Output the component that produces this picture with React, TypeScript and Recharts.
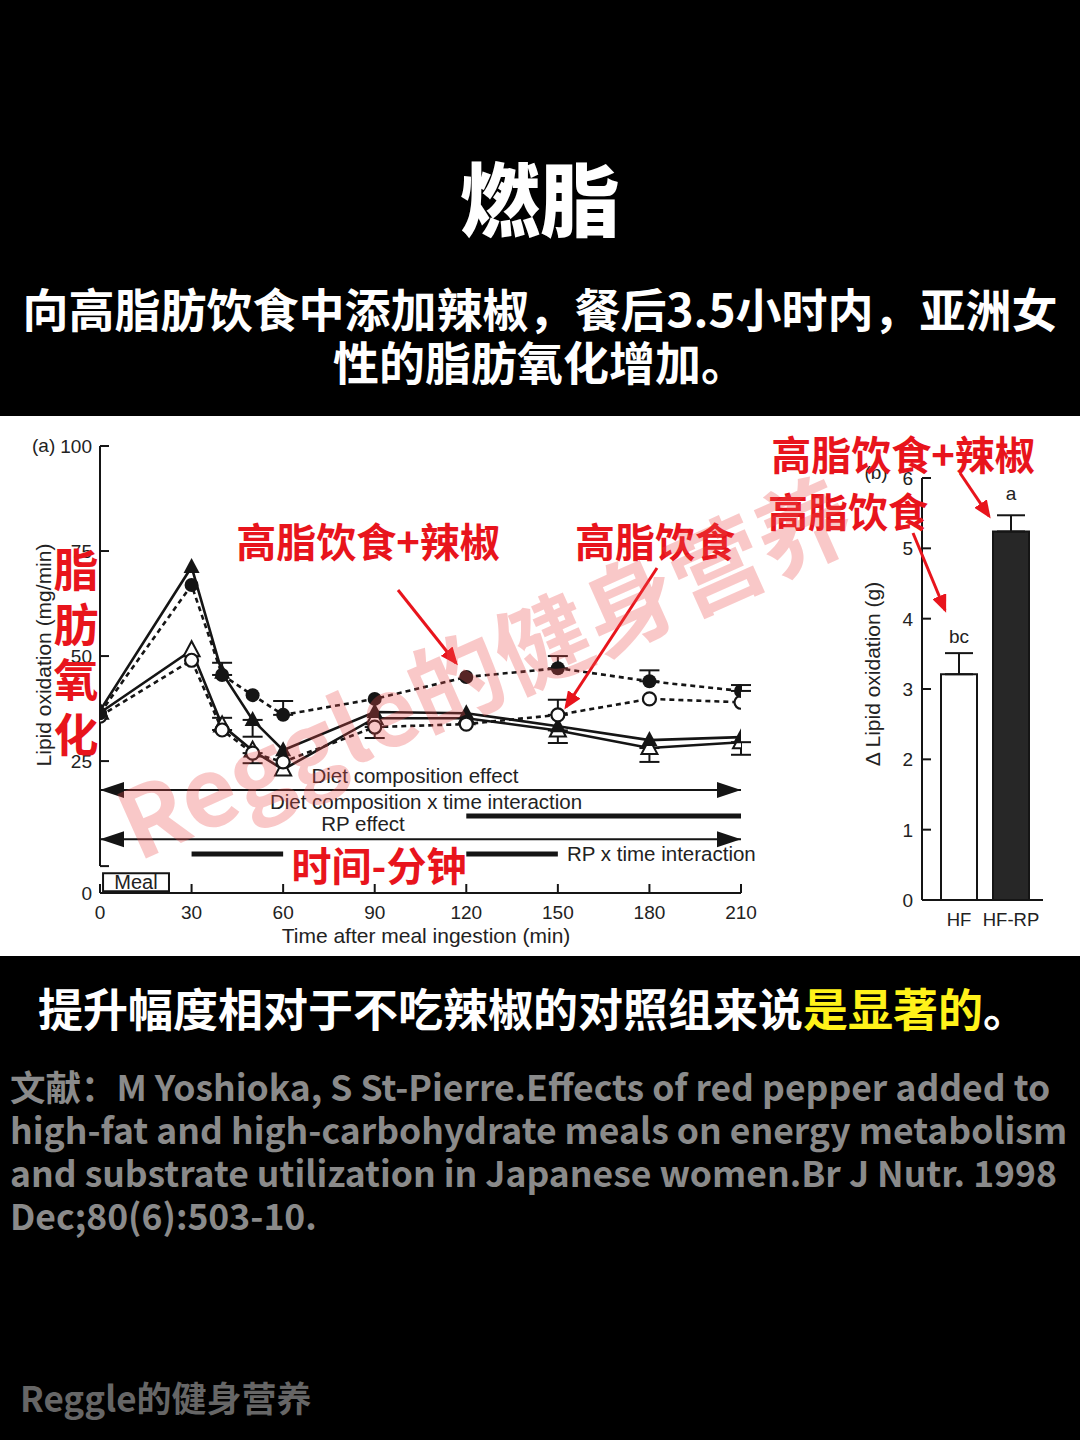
import React from 'react';
import {
  LineChart, Line, XAxis, YAxis, ReferenceLine, ReferenceArea, ErrorBar,
  BarChart, Bar, Cell, LabelList,
} from 'recharts';

// (a) lipid oxidation after the meal, mg/min
const times = [0, 30, 40, 50, 60, 90, 120, 150, 180, 210];
const hfRp = [36.4, 66.9, 45.5, 40.7, 36.0, 39.8, 45.0, 47.1, 44.0, 41.7]; // filled circle
const hf = [35.7, 49.0, 32.4, 26.9, 24.8, 33.1, 33.8, 36.0, 39.8, 39.0]; // open circle
const hcRp = [37.0, 71.2, 46.0, 34.8, 27.6, 36.7, 36.4, 33.3, 30.0, 30.7]; // filled triangle
const hc = [36.5, 51.4, 33.5, 27.5, 23.0, 35.2, 35.2, 32.3, 28.1, 29.5]; // open triangle
// error bars as [below, above], null where none is drawn
type Err = [number, number] | null;
const hfRpErr: Err[] = [null, null, [0, 2.9], null, [0, 3.3], null, null, [0, 2.9], [0, 2.6], [0, 1.4]];
const hfErr: Err[] = [null, null, [0, 2.9], [2.4, 0], null, [2.6, 0], null, [0, 3.6], null, null];
const hcRpErr: Err[] = [null, null, null, [4, 0], null, null, null, null, null, null];
const hcErr: Err[] = [null, null, null, null, null, null, null, [3, 0], [3.3, 0], [3, 0]];
const xTicks = [0, 30, 60, 90, 120, 150, 180, 210];
const yTicks = [25, 50, 75, 100];
const axisFloor = -6.4; // x axis sits a little below the y axis zero

// (b) total lipid oxidation, g
const groups = ['HF', 'HF-RP'];
const totals = [3.21, 5.24];
const totalErr = [[0, 0.3], [0, 0.23]];
const letters = ['bc', 'a'];
const bTicks = [0, 1, 2, 3, 4, 5, 6];

const RED = '#e8141c';
const INK = '#151515';
const SANS = '"Liberation Sans", Arial, sans-serif';
const CJK = '"Noto Sans CJK SC", "Noto Sans", sans-serif';

const tri = (cx: number, cy: number) => `${cx},${cy - 9} ${cx - 8},${cy + 6} ${cx + 8},${cy + 6}`;
const dotFilledCircle = (p: any) => <circle key={`fc${p.index}`} cx={p.cx} cy={p.cy} r={7} fill={INK} />;
const dotOpenCircle = (p: any) => (
  <circle key={`oc${p.index}`} cx={p.cx} cy={p.cy} r={6.5} fill="#fff" stroke={INK} strokeWidth={2.2} />
);
const dotFilledTri = (p: any) => <polygon key={`ft${p.index}`} points={tri(p.cx, p.cy)} fill={INK} />;
const dotOpenTri = (p: any) => (
  <polygon key={`ot${p.index}`} points={tri(p.cx, p.cy)} fill="#fff" stroke={INK} strokeWidth={2} />
);

const YTickA = (p: any) => {
  const { x, y, payload } = p;
  const v = payload.value;
  if (v === axisFloor) {
    return <text x={x - 8} y={y + 7} textAnchor="end" fontSize={19} fill="#222" fontFamily={SANS}>0</text>;
  }
  return (
    <g>
      <line x1={x} y1={y} x2={x + 9} y2={y} stroke={INK} strokeWidth={2} />
      {v !== 0 && (
        <text x={x - 8} y={y + 7} textAnchor="end" fontSize={19} fill="#222" fontFamily={SANS}>{v}</text>
      )}
    </g>
  );
};

const XTickA = (p: any) => {
  const { x, y, payload } = p;
  return (
    <g>
      <line x1={x} y1={y} x2={x} y2={y - 9} stroke={INK} strokeWidth={2} />
      <text x={x} y={y + 26} textAnchor="middle" fontSize={19} fill="#222" fontFamily={SANS}>{payload.value}</text>
    </g>
  );
};

const YTickB = (p: any) => {
  const { x, y, payload } = p;
  return (
    <g>
      <line x1={x} y1={y} x2={x + 9} y2={y} stroke={INK} strokeWidth={2} />
      <text x={x - 9} y={y + 7} textAnchor="end" fontSize={19} fill="#222" fontFamily={SANS}>{payload.value}</text>
    </g>
  );
};

const XTickB = (p: any) => {
  const { x, y, payload } = p;
  return (
    <text x={x} y={y + 26} textAnchor="middle" fontSize={18.5} fill="#222" fontFamily={SANS}>{payload.value}</text>
  );
};

const doubleArrow = (p: any) => {
  const { x1, y1, x2, y2 } = p;
  return (
    <g>
      <line x1={x1} y1={y1} x2={x2} y2={y2} stroke={INK} strokeWidth={2} />
      <polygon points={`${x1},${y1} ${x1 + 24},${y1 - 8} ${x1 + 24},${y1 + 8}`} fill={INK} />
      <polygon points={`${x2},${y2} ${x2 - 24},${y2 - 8} ${x2 - 24},${y2 + 8}`} fill={INK} />
    </g>
  );
};

export default function App() {
  const lineData = times.map((t, i) => ({
    t, hfRp: hfRp[i], hf: hf[i], hcRp: hcRp[i], hc: hc[i],
    hfRpErr: hfRpErr[i], hfErr: hfErr[i], hcRpErr: hcRpErr[i], hcErr: hcErr[i],
  }));
  const barData = groups.map((g, i) => ({ name: g, value: totals[i], err: totalErr[i], letter: letters[i] }));

  return (
    <div style={{ position: 'absolute', left: 0, top: 0, width: 1080, height: 1440, background: '#000', overflow: 'hidden' }}>
      <div style={{ position: 'absolute', left: 0, top: 416, width: 1080, height: 540, background: '#fff' }} />

      <div style={{ position: 'absolute', left: 0, top: 416 }}>
        <LineChart width={780} height={540} data={lineData} margin={{ top: 30, right: 39, bottom: 3, left: 0 }}>
          <XAxis
            type="number" dataKey="t" domain={[0, 210]} ticks={xTicks} allowDataOverflow height={60}
            axisLine={{ stroke: INK, strokeWidth: 2 }} tickLine={false} tickSize={0} tickMargin={0} tick={XTickA}
          />
          <YAxis
            type="number" domain={[axisFloor, 100]} ticks={[axisFloor, 0, ...yTicks]} allowDataOverflow width={100}
            axisLine={false} tickLine={false} tickSize={0} tickMargin={0} tick={YTickA}
          />
          <ReferenceLine segment={[{ x: 0, y: 0 }, { x: 0, y: 100 }]} stroke={INK} strokeWidth={2} />
          <ReferenceLine segment={[{ x: 0, y: 18.1 }, { x: 210, y: 18.1 }]} shape={doubleArrow} />
          <ReferenceLine segment={[{ x: 120, y: 11.9 }, { x: 210, y: 11.9 }]} stroke={INK} strokeWidth={5} />
          <ReferenceLine segment={[{ x: 0, y: 6.4 }, { x: 210, y: 6.4 }]} shape={doubleArrow} />
          <ReferenceLine segment={[{ x: 30, y: 2.9 }, { x: 60, y: 2.9 }]} stroke={INK} strokeWidth={5} />
          <ReferenceLine segment={[{ x: 120, y: 2.9 }, { x: 150, y: 2.9 }]} stroke={INK} strokeWidth={5} />
          <ReferenceArea
            x1={1} x2={22.6} y1={-6.0} y2={-1.7} stroke={INK} strokeWidth={2} fill="#fff" fillOpacity={1}
            label={{ value: 'Meal', position: 'center', fontSize: 20, fill: '#222', fontFamily: SANS }}
          />
          <Line dataKey="hc" type="linear" stroke={INK} strokeWidth={2.6} dot={dotOpenTri} isAnimationActive={false}>
            <ErrorBar dataKey="hcErr" width={10} stroke={INK} strokeWidth={2} direction="y" />
          </Line>
          <Line dataKey="hcRp" type="linear" stroke={INK} strokeWidth={2.6} dot={dotFilledTri} isAnimationActive={false}>
            <ErrorBar dataKey="hcRpErr" width={10} stroke={INK} strokeWidth={2} direction="y" />
          </Line>
          <Line dataKey="hf" type="linear" stroke={INK} strokeWidth={2.6} strokeDasharray="5 4" dot={dotOpenCircle} isAnimationActive={false}>
            <ErrorBar dataKey="hfErr" width={10} stroke={INK} strokeWidth={2} direction="y" />
          </Line>
          <Line dataKey="hfRp" type="linear" stroke={INK} strokeWidth={2.6} strokeDasharray="5 4" dot={dotFilledCircle} isAnimationActive={false}>
            <ErrorBar dataKey="hfRpErr" width={10} stroke={INK} strokeWidth={2} direction="y" />
          </Line>
        </LineChart>
      </div>

      <div style={{ position: 'absolute', left: 840, top: 416 }}>
        <BarChart width={240} height={540} data={barData} margin={{ top: 62, right: 37, bottom: 16, left: 0 }} barSize={36}>
          <XAxis
            dataKey="name" height={40} padding={{ left: 11, right: 6 }} interval={0}
            axisLine={{ stroke: INK, strokeWidth: 2 }} tickLine={false} tickSize={0} tickMargin={0} tick={XTickB}
          />
          <YAxis
            type="number" domain={[0, 6]} ticks={bTicks} allowDataOverflow width={82}
            axisLine={{ stroke: INK, strokeWidth: 2 }} tickLine={false} tickSize={0} tickMargin={0} tick={YTickB}
          />
          <Bar dataKey="value" stroke={INK} strokeWidth={2} isAnimationActive={false}>
            {barData.map((d, i) => (
              <Cell key={d.name} fill={i === 0 ? '#fff' : '#272727'} />
            ))}
            <ErrorBar dataKey="err" width={14} stroke={INK} strokeWidth={2} direction="y" />
            <LabelList dataKey="letter" position="top" offset={31} fontSize={19} fill="#222" fontFamily={SANS} />
          </Bar>
        </BarChart>
      </div>

      <svg width={1080} height={1440} style={{ position: 'absolute', left: 0, top: 0, pointerEvents: 'none' }}>
        <defs>
          <marker id="ah" markerWidth="6" markerHeight="5" refX="5" refY="2.5" orient="auto" markerUnits="strokeWidth">
            <path d="M0,0 L6,2.5 L0,5 z" fill={RED} />
          </marker>
        </defs>

        {/* header */}
        <text x={540} y={230} textAnchor="middle" fontSize={80} fontWeight={900} fill="#fff" fontFamily={CJK}>燃脂</text>
        <text x={540} y={327} textAnchor="middle" fontSize={46} fontWeight={700} fill="#fff" fontFamily={CJK}>
          向高脂肪饮食中添加辣椒，餐后3.5小时内，亚洲女
        </text>
        <text x={540} y={380} textAnchor="middle" fontSize={46} fontWeight={700} fill="#fff" fontFamily={CJK}>
          性的脂肪氧化增加。
        </text>

        {/* chart furniture text */}
        <g fontFamily={SANS} fill="#222">
          <text x={32} y={452} fontSize={19}>(a)</text>
          <text x={876} y={479} fontSize={19} textAnchor="middle">(b)</text>
          <text transform="rotate(-90 51 655)" x={51} y={655} fontSize={21} textAnchor="middle">Lipid oxidation (mg/min)</text>
          <text transform="rotate(-90 880 674)" x={880} y={674} fontSize={21} textAnchor="middle">Δ Lipid oxidation (g)</text>
          <text x={426} y={943} fontSize={21} textAnchor="middle">Time after meal ingestion (min)</text>
          <text x={415} y={783} fontSize={20.5} textAnchor="middle">Diet composition effect</text>
          <text x={426} y={809} fontSize={20.5} textAnchor="middle">Diet composition x time interaction</text>
          <text x={363} y={831} fontSize={20.5} textAnchor="middle">RP effect</text>
          <text x={567} y={861} fontSize={20.5}>RP x time interaction</text>
        </g>

        {/* red callouts */}
        <g fontFamily={CJK} fontWeight={700} fill={RED}>
          <text x={368} y={557} fontSize={40} textAnchor="middle">高脂饮食+辣椒</text>
          <text x={655} y={557} fontSize={40} textAnchor="middle">高脂饮食</text>
          <text x={903} y={470} fontSize={40} textAnchor="middle">高脂饮食+辣椒</text>
          <text x={848} y={527} fontSize={40} textAnchor="middle">高脂饮食</text>
          <text x={379} y={881} fontSize={40} textAnchor="middle">时间-分钟</text>
          <text x={76} y={587} fontSize={45} textAnchor="middle">脂</text>
          <text x={76} y={642} fontSize={45} textAnchor="middle">肪</text>
          <text x={76} y={697} fontSize={45} textAnchor="middle">氧</text>
          <text x={76} y={752} fontSize={45} textAnchor="middle">化</text>
        </g>
        <g stroke={RED} strokeWidth={3}>
          <line x1={398} y1={590} x2={456} y2={663} markerEnd="url(#ah)" />
          <line x1={657} y1={568} x2={566} y2={707} markerEnd="url(#ah)" />
          <line x1={960} y1={473} x2={989} y2={516} markerEnd="url(#ah)" />
          <line x1={913} y1={533} x2={945} y2={610} markerEnd="url(#ah)" />
        </g>

        {/* watermark */}
        <text
          x={138} y={862} transform="rotate(-24 138 862)" fontSize={95} fontWeight={700}
          fill="#ee4d4d" opacity={0.3} fontFamily={CJK}
        >
          Reggle的健身营养
        </text>

        {/* footer text */}
        <text x={38} y={1027} fontSize={45} fontWeight={700} fill="#fff" fontFamily={CJK}>
          提升幅度相对于不吃辣椒的对照组来说<tspan fill="#fff21a">是显著的</tspan>。
        </text>
        <g fontFamily={CJK} fontWeight={700} fill="#8a8a8a" fontSize={35.5}>
          <text x={10} y={1101}>文献：M Yoshioka, S St-Pierre.Effects of red pepper added to</text>
          <text x={10} y={1144}>high-fat and high-carbohydrate meals on energy metabolism</text>
          <text x={10} y={1187}>and substrate utilization in Japanese women.Br J Nutr. 1998</text>
          <text x={10} y={1230}>Dec;80(6):503-10.</text>
        </g>
        <text x={20} y={1412} fontSize={35} fontWeight={700} fill="#666" fontFamily={CJK}>Reggle的健身营养</text>
      </svg>
    </div>
  );
}
